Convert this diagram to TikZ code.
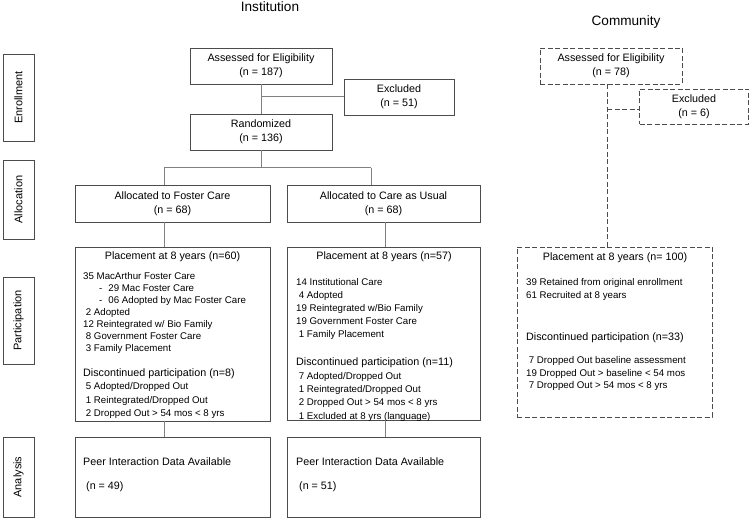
\documentclass[tikz,border=0pt]{standalone}
\usepackage{fontspec}
\setmainfont{Liberation Sans}
\definecolor{boxgray}{gray}{0.3}
\definecolor{linkgray}{gray}{0.5}
\tikzset{
  box/.style={draw=boxgray, line width=0.8pt, align=center, font=\fontsize{10.75}{14}\selectfont},
  cbox/.style={box, dash pattern=on 5pt off 2.5pt},
  side/.style={draw=boxgray, line width=0.8pt, rotate=90, minimum height=31, font=\fontsize{11}{12}\selectfont},
  head/.style={font=\fontsize{10.75}{14}\selectfont, inner sep=0pt},
  lst/.style={font=\fontsize{9.7}{12}\selectfont, align=left, anchor=north west, inner sep=0pt},
  link/.style={draw=linkgray, line width=1pt},
  clink/.style={draw=boxgray, line width=0.8pt, dash pattern=on 5pt off 2.5pt},
}
\begin{document}
\begin{tikzpicture}[x=1pt,y=-1pt]
\useasboundingbox (0,0) rectangle (750,518);

\node[font=\fontsize{13.6}{16}\selectfont] (instT) at (270,7) {Institution};
\node[font=\fontsize{13.6}{16}\selectfont] (commT) at (626,22) {Community};

% stages
\node[side, minimum width=87] (enrol) at (18.5,97.5) {Enrollment};
\node[side, minimum width=79] (alloc) at (18.5,199.5) {Allocation};
\node[side, minimum width=87] (partic) at (18.5,320.5) {Participation};
\node[side, minimum width=80] (anal) at (18.5,477) {Analysis};

% institution
\node[box, minimum width=142, minimum height=36] (assessI) at (261,66) {Assessed for Eligibility\\(n = 187)};
\node[box, minimum width=110, minimum height=36] (exclI) at (399,97) {Excluded\\(n = 51)};
\node[box, minimum width=142, minimum height=36] (randI) at (261,132) {Randomized\\(n = 136)};
\node[box, minimum width=195, minimum height=37] (fosterA) at (172.5,203.5) {Allocated to Foster Care\\(n = 68)};
\node[box, minimum width=193, minimum height=37] (usualA) at (383.5,203.5) {Allocated to Care as Usual\\(n = 68)};
\node[box, minimum width=195, minimum height=174] (fosterP) at (172.5,334) {};
\node[box, minimum width=193, minimum height=173] (usualP) at (383.5,333.5) {};
\node[box, minimum width=195, minimum height=80] (fosterN) at (172.5,477) {};
\node[box, minimum width=193, minimum height=80] (usualN) at (383.5,477) {};

\node[head] (fosterH) at (172.5,257) {Placement at 8 years (n=60)};
\node[lst] (fosterL) at (83,272.5) {35 MacArthur Foster Care\\
  \hspace{16pt}-\hspace{6pt}29 Mac Foster Care\\
  \hspace{16pt}-\hspace{6pt}06 Adopted by Mac Foster Care\\
  \ 2 Adopted\\
  12 Reintegrated w/ Bio Family\\
  \ 8 Government Foster Care\\
  \ 3 Family Placement};
\node[head, anchor=north west] (fosterD) at (83,369) {Discontinued participation (n=8)};
\node[lst, font=\fontsize{9.7}{13.3}\selectfont] (fosterDL) at (83,382.5) {\ 5 Adopted/Dropped Out\\
  \ 1 Reintegrated/Dropped Out\\
  \ 2 Dropped Out > 54 mos < 8 yrs};

\node[head] (usualH) at (384,257) {Placement at 8 years (n=57)};
\node[lst, font=\fontsize{9.7}{13}\selectfont] (usualL) at (296,278.5) {14 Institutional Care\\
  \ 4 Adopted\\
  19 Reintegrated w/Bio Family\\
  19 Government Foster Care\\
  \ 1 Family Placement};
\node[head, anchor=north west] (usualD) at (296,358) {Discontinued participation (n=11)};
\begin{scope}
\clip (usualP.north west) rectangle (usualP.south east);
\node[lst, font=\fontsize{9.7}{13.3}\selectfont] (usualDL) at (296,372) {\ 7 Adopted/Dropped Out\\
  \ 1 Reintegrated/Dropped Out\\
  \ 2 Dropped Out > 54 mos < 8 yrs\\
  \ 1 Excluded at 8 yrs (language)};
\end{scope}

\node[head, anchor=north west] (fosterNT) at (83,458) {Peer Interaction Data Available};
\node[head, anchor=north west] (fosterNN) at (83,482) {\ (n = 49)};
\node[head, anchor=north west] (usualNT) at (296,458) {Peer Interaction Data Available};
\node[head, anchor=north west] (usualNN) at (296,482) {\ (n = 51)};

\coordinate (brL) at (164,168);
\coordinate (brR) at (371,168);
\coordinate (colR) at (385,230);

\draw[link] (assessI.south) -- (randI.north);
\draw[link] (exclI.west) -- (exclI.west -| assessI.south);
\draw[link] (randI.south) -- (randI.south |- brL);
\draw[link] (brL) -- (brR);
\draw[link] (brL) -- (brL |- fosterA.north);
\draw[link] (brR) -- (brR |- usualA.north);
\draw[link] (brL |- fosterA.south) -- (brL |- fosterP.north);
\draw[link] (colR |- usualA.south) -- (colR |- usualP.north);
\draw[link] (brL |- fosterP.south) -- (brL |- fosterN.north);
\draw[link] (colR |- usualP.south) -- (colR |- usualN.north);

% community
\node[cbox, minimum width=142, minimum height=36] (assessC) at (611,66) {Assessed for Eligibility\\(n = 78)};
\node[cbox, minimum width=109, minimum height=35] (exclC) at (694,106.5) {Excluded\\(n = 6)};
\node[cbox, minimum width=195, minimum height=170] (placeC) at (614.5,332) {};

\node[head] (placeH) at (615,258) {Placement at 8 years (n= 100)};
\node[lst, font=\fontsize{9.7}{13}\selectfont] (placeL) at (526,278.5) {39 Retained from original enrollment\\
  61 Recruited at 8 years};
\node[head, anchor=north west] (placeD) at (526,333) {Discontinued participation (n=33)};
\node[lst, font=\fontsize{9.7}{12.5}\selectfont] (placeDL) at (526,356.5) {\ 7 Dropped Out baseline assessment\\
  19 Dropped Out > baseline < 54 mos\\
  \ 7 Dropped Out > 54 mos < 8 yrs};

\coordinate (colC) at (607,109);
\draw[clink] (colC |- assessC.south) -- (colC |- placeC.north);
\draw[clink] (colC) -- (colC -| exclC.west);
\end{tikzpicture}
\end{document}
